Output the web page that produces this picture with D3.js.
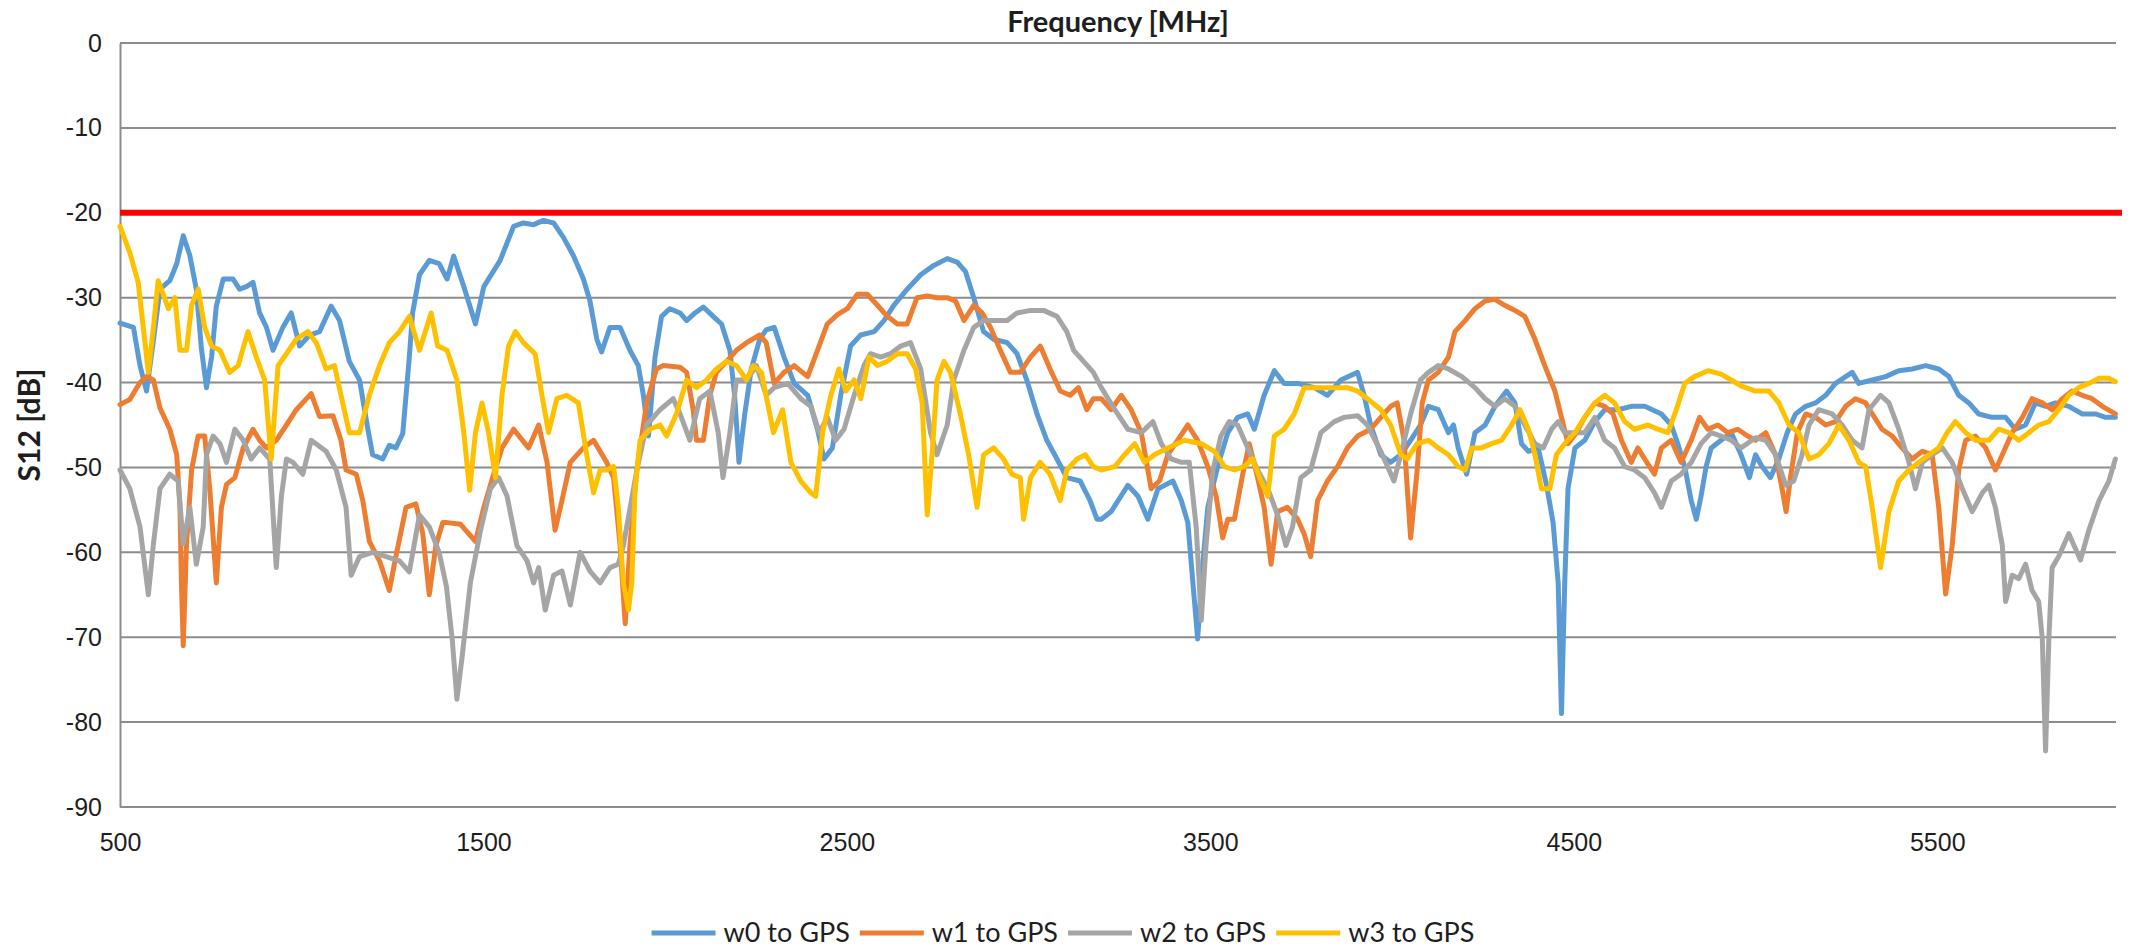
<!DOCTYPE html>
<html>
<head>
<meta charset="utf-8">
<script src="https://cdn.jsdelivr.net/npm/d3@7/dist/d3.min.js"></script>
<style>
  html, body { margin: 0; padding: 0; background: #fff; }
  svg { display: block; font-family: Lato, "Open Sans", sans-serif; }
</style>
</head>
<body>
<svg id="chart" width="2136" height="952"></svg>
<script>
// values (MHz / dB)
const w0Mhz = [500,537,555,573,592,610,637,656,674,692,710,724,738,752,765,784,811,829,848,866,884,903,921,948,971,994,1022,1049,1081,1104,1131,1159,1182,1195,1223,1241,1259,1278,1296,1305,1324,1351,1378,
  1400,1418,1446,1478,1501,1546,1583,1610,1638,1665,1693,1720,1748,1775,1793,1812,1825,1848,1876,1903,1926,1940,1954,1972,1990,2013,2041,2059,2082,2105,2132,2155,2178,2191,2203,2219,2237,2260,2278,
  2300,2327,2355,2392,2419,2437,2460,2483,2510,2538,2575,2602,2629,2666,2703,2739,2776,2803,2826,2849,2876,2904,2941,2968,2995,3023,3050,3078,3105,3142,3169,3188,
  3200,3227,3273,3301,3328,3356,3397,3420,3438,3452,3465,3479,3493,3520,3548,3575,3603,3621,3648,3676,3703,3740,3786,3822,3859,3905,3923,3941,3969,3996,4024,4051,4078,
  4100,4127,4155,4169,4182,4205,4228,4256,4283,4315,4338,4356,4375,4402,4425,4443,4457,4466,4475,4484,4503,4530,4558,4585,4622,4658,4695,4741,4768,4786,4805,4823,4837,4850,4864,4878,4905,4933,4960,4983,
  5000,5018,5041,5064,5087,5110,5138,5165,5193,5220,5248,5266,5284,5321,5358,5394,5431,5468,5504,5532,5559,5587,5614,5651,5688,5715,5743,5770,5798,5825,5862,5899,5935,5963,5990]
const w0Db = [-33,-33.5,-38,-41,-35,-29,-28,-26,-22.7,-25,-29,-36,-40.6,-37,-31,-27.8,-27.8,-29,-28.7,-28.2,-31.8,-33.5,-36.2,-33.5,-31.8,-35.7,-34.4,-34,-31,-32.7,-37.5,-39.7,-45.5,-48.5,-49,-47.4,-47.7,-46,-37,-31.8,-27.3,-25.6,-26,
  -27.8,-25.1,-28.7,-33.1,-28.7,-25.6,-21.6,-21.2,-21.4,-20.9,-21.2,-22.9,-25.1,-27.8,-30.4,-34.9,-36.4,-33.5,-33.5,-36.2,-38,-41.5,-46.3,-37,-32.2,-31.3,-31.8,-32.7,-31.8,-31.1,-32.2,-33.1,-36.2,-41.5,-49.4,-43.7,-38.4,-34.9,-33.8,
  -33.5,-37,-40.1,-41.5,-45.5,-49,-47.7,-41.5,-35.7,-34.4,-34,-32.7,-30.9,-29,-27.3,-26.2,-25.4,-25.8,-26.9,-30,-34,-34.9,-35.3,-36.6,-39.7,-43.7,-46.8,-49,-51.2,-51.6,-53.9,-56.1,
  -56.1,-55.2,-52.1,-53.4,-56.1,-52.5,-51.6,-53.9,-56.5,-63.6,-70.2,-61.4,-54.7,-49.9,-45.9,-44.1,-43.7,-45.5,-41.5,-38.6,-40.1,-40.1,-40.6,-41.5,-39.7,-38.8,-41.5,-45,-48.5,-49.4,-48.5,-46.8,-45,
  -42.8,-43.2,-45.9,-45,-47.7,-50.8,-45.9,-45,-42.8,-41,-42.4,-47.2,-48.1,-47.7,-52.1,-56.5,-63.6,-79,-63.6,-52.5,-47.7,-46.8,-44.6,-43.2,-43.2,-42.8,-42.8,-43.7,-45,-47.2,-49.9,-53.9,-56.1,-53.4,-49.9,-47.7,-46.8,-45.9,-48.5,-51.2,
  -48.5,-49.9,-51.2,-49,-45.9,-43.7,-42.8,-42.4,-41.5,-40.1,-39.3,-38.8,-40.1,-39.7,-39.3,-38.6,-38.4,-38,-38.4,-39.3,-41.5,-42.4,-43.7,-44.1,-44.1,-45.5,-45,-42.4,-42.8,-42.4,-42.8,-43.7,-43.7,-44.1,-44.1]

const w1Mhz = [500,527,555,573,592,610,637,656,665,669,674,683,697,715,733,747,765,779,793,816,839,866,884,903,930,958,985,1026,1049,1086,1108,1122,1150,1168,1186,1214,1241,1259,1287,1314,1333,1351,1369,1388,
  1400,1437,1478,1501,1528,1551,1583,1624,1652,1675,1697,1716,1739,1775,1803,1839,1858,1876,1890,1903,1922,1949,1976,1995,2041,2059,2077,2086,2105,2123,2141,2169,2196,2224,2260,2278,
  2300,2327,2355,2392,2419,2446,2474,2501,2529,2556,2584,2611,2639,2666,2693,2721,2748,2776,2799,2822,2849,2872,2895,2922,2950,2977,3005,3032,3059,3087,3114,3137,3160,3178,
  3200,3227,3255,3282,3310,3337,3360,3383,3410,3438,3465,3493,3516,3534,3548,3566,3589,3607,3630,3648,3667,3685,3712,3740,3758,3776,3795,3822,3850,3877,3905,3941,3969,3996,4014,4033,4051,4069,4083,
  4100,4127,4155,4173,4201,4228,4256,4283,4310,4338,4365,4393,4420,4448,4466,4484,4507,4530,4558,4585,4608,4631,4658,4676,4695,4722,4741,4768,4795,4823,4846,4869,4896,4924,4951,4978,
  5000,5028,5055,5073,5084,5096,5115,5138,5165,5193,5220,5248,5275,5303,5321,5348,5376,5403,5431,5459,5486,5504,5523,5541,5559,5578,5605,5633,5660,5679,5706,5734,5761,5789,5816,5844,5871,5899,5926,5954,5990]
const w1Db = [-42.6,-42,-40,-39.3,-39.7,-43,-45.5,-48.5,-54.7,-63.6,-71,-59,-50.3,-46.3,-46.3,-52.5,-63.6,-54.7,-52,-51.2,-47.7,-45.5,-46.8,-47.7,-46.8,-45,-43.2,-41.3,-44,-43.9,-46.8,-50.3,-50.8,-53.9,-58.7,-61,-64.5,-60.5,-54.7,-54.3,-57.8,-65,-59.2,-56.5,
  -56.5,-56.7,-58.7,-54.7,-50.8,-47.7,-45.5,-47.7,-45,-49.4,-57.4,-53.9,-49.4,-47.7,-46.8,-49.4,-51.2,-59.2,-68.4,-59.2,-50.3,-42.4,-38.4,-38,-38.2,-38.8,-43.2,-46.8,-46.8,-41.5,-38.8,-37.5,-36.2,-35.3,-34.4,-35.3,
  -40.1,-38.8,-38,-39.3,-36.2,-33.1,-32,-31.3,-29.6,-29.6,-30.9,-32.2,-33.1,-33.1,-30,-29.8,-30,-30,-30.4,-32.7,-30.9,-31.8,-33.5,-36.2,-38.8,-38.8,-37,-35.7,-38.4,-41,-41.5,-40.6,-43.2,-41.9,
  -41.9,-43.2,-41.5,-43.2,-45.9,-52.5,-51.6,-48.5,-46.8,-45,-46.8,-49.9,-53.4,-58.3,-56.1,-56.1,-50.8,-47.2,-51.2,-54.7,-61.4,-55.2,-54.7,-56.1,-57.8,-60.5,-53.9,-51.6,-49.9,-47.7,-46.3,-45.5,-44.1,-42.8,-42.4,-46.8,-58.3,-50.3,-42.4,
  -39.7,-38.8,-37,-34,-32.7,-31.3,-30.4,-30.2,-30.9,-31.5,-32.2,-34.9,-38,-41,-44.1,-47.2,-45.9,-44.1,-42.4,-42.8,-43.7,-46.8,-49.4,-47.7,-49,-50.8,-47.7,-46.8,-49.4,-46.8,-44.1,-45.5,-45,-45.9,-45.5,-46.3,
  -46.8,-45.9,-48.5,-52.5,-55.2,-51.2,-45.9,-43.7,-44.1,-45,-44.6,-42.8,-41.9,-42.4,-43.7,-45.5,-46.3,-47.7,-49,-48.1,-48.5,-54.7,-64.9,-59.2,-50.3,-46.8,-46.3,-47.7,-50.3,-48.5,-45.9,-44.1,-41.9,-42.4,-43.2,-41.9,-41,-41.5,-41.9,-42.8,-43.7]

const w2Mhz = [500,527,555,578,592,610,637,660,674,692,710,729,738,756,775,793,816,839,861,884,912,930,944,958,976,1003,1026,1067,1095,1122,1136,1159,1195,1232,1269,1296,1324,1351,1378,
  1398,1414,1427,1441,1464,1492,1519,1542,1565,1592,1620,1638,1652,1670,1693,1716,1739,1766,1793,1821,1848,1871,1885,1922,1949,1986,2022,2041,2068,2095,2123,2146,2159,2178,2196,2224,2251,2278,
  2300,2337,2373,2401,2424,2446,2469,2492,2520,2547,2565,2593,2620,2648,2675,2703,2730,2748,2776,2794,2822,2849,2876,2904,2941,2968,3005,3041,3078,3105,3124,3151,3178,
  3200,3237,3273,3310,3342,3365,3392,3420,3442,3461,3475,3488,3507,3529,3552,3575,3603,3630,3658,3685,3708,3726,3749,3776,3804,3841,3868,3905,3932,3969,4005,4024,4051,4078,
  4100,4127,4155,4192,4228,4256,4283,4310,4338,4365,4393,4416,4439,4457,4475,4503,4530,4558,4585,4612,4640,4667,4695,4722,4741,4768,4795,4823,4850,4878,4905,4933,4960,
  5000,5028,5055,5083,5105,5128,5147,5174,5211,5238,5266,5293,5312,5344,5367,5394,5422,5440,5459,5486,5514,5541,5569,5596,5624,5642,5660,5679,5688,5706,5724,5743,5761,5779,5789,5798,5807,5816,5834,5862,5894,5917,5945,5972,5990]
const w2Db = [-50.3,-52.5,-57,-65,-59,-52.5,-50.8,-51.6,-59,-54.7,-61.4,-57,-48.5,-46.3,-47.2,-49.4,-45.5,-46.8,-49,-47.7,-49,-61.8,-53.4,-49,-49.4,-50.8,-46.8,-48.1,-50.3,-54.7,-62.7,-60.5,-60,-60.5,-61,-62.3,-55.6,-57,-60,
  -64,-70.2,-77.3,-72.4,-63.6,-57.4,-52.5,-51.2,-53.4,-59.2,-61,-63.6,-61.8,-66.8,-62.7,-62.2,-66.2,-60,-62.2,-63.6,-61.8,-61.4,-59.2,-50.3,-45,-43.2,-41.9,-43.7,-46.8,-41.9,-41,-45.9,-51.2,-45.9,-39.7,-39.7,-38,-41.5,
  -40.6,-40.1,-41.9,-42.8,-45.9,-44.1,-46.8,-45.5,-41.5,-38,-36.6,-37,-36.6,-35.7,-35.3,-38.4,-45.9,-48.5,-45,-39.7,-36.2,-33.5,-32.7,-32.7,-32.7,-31.8,-31.5,-31.5,-32.2,-34,-36.2,-37.5,-38.8,
  -40.6,-43.2,-45.5,-45.9,-44.6,-47.2,-49,-49.4,-49.4,-57,-68,-59.2,-50.3,-46.3,-44.6,-45,-47.7,-50.3,-52.5,-55.6,-59.2,-57,-51.2,-50.3,-45.9,-44.6,-44.1,-43.9,-45,-48.1,-51.6,-48.5,-43.7,-39.7,
  -38.8,-38,-38.4,-39.3,-40.6,-41.9,-42.8,-41.9,-42.8,-45,-47.2,-47.7,-45.5,-44.6,-45.9,-45.9,-45.9,-44.1,-46.8,-47.7,-49.9,-50.3,-51.2,-53,-54.7,-51.6,-50.8,-49.4,-47.2,-45.9,-46.3,-46.8,-47.7,
  -46.5,-46.8,-48.5,-52.1,-51.6,-48.5,-45,-43.2,-43.7,-45,-46.8,-47.7,-43.2,-41.5,-42.4,-45.5,-49.4,-52.5,-49.4,-48.5,-47.7,-49.4,-52.5,-55.2,-53,-52.1,-54.7,-59.2,-65.8,-62.7,-63.1,-61.4,-64.5,-65.8,-70.2,-83.4,-70.2,-61.8,-60.5,-57.8,-60.9,-57.4,-53.9,-51.6,-49]

const w3Mhz = [500,527,550,564,578,592,605,619,633,651,665,683,697,715,733,752,775,802,825,852,875,898,916,935,958,985,1017,1040,1067,1090,1108,1131,1159,1186,1214,1241,1269,1296,1324,1356,1374,1400,
  1427,1446,1462,1478,1496,1514,1533,1551,1569,1588,1610,1642,1661,1679,1702,1729,1761,1784,1803,1821,1839,1858,1871,1885,1899,1908,1917,1931,1958,1986,2004,2031,2059,2086,2114,2141,2169,2196,2224,2242,2265,2298,
  2323,2346,2373,2401,2414,2433,2456,2478,2497,2520,2538,2561,2584,2611,2639,2666,2689,2707,2721,2735,2748,2767,2785,2812,2835,2858,2876,2904,2931,2954,2977,2986,3005,3032,3059,3087,3105,3133,3156,3178,
  3200,3237,3264,3292,3319,3346,3383,3429,3475,3511,3539,3566,3593,3616,3639,3658,3676,3703,3731,3758,3795,3841,3877,3905,3932,3969,3996,4024,4042,4069,
  4100,4127,4155,4182,4201,4219,4246,4274,4301,4329,4352,4375,4393,4411,4434,4452,4475,4503,4530,4558,4585,4612,4640,4667,4704,4731,4759,4782,4805,4832,4869,4905,4933,4960,
  5000,5037,5064,5092,5119,5147,5174,5202,5229,5257,5284,5303,5321,5344,5367,5394,5422,5449,5477,5504,5527,5550,5578,5605,5642,5669,5697,5724,5752,5779,5807,5834,5862,5889,5917,5945,5972,5990]
const w3Db = [-21.6,-24.7,-28.2,-33.5,-38.8,-33.5,-28,-29.6,-31.3,-30,-36.2,-36.2,-30.9,-29,-33.5,-35.7,-36.2,-38.8,-38,-34,-37,-39.7,-49,-38,-36.6,-34.9,-34,-35.3,-38.4,-38,-41.5,-45.9,-45.9,-41.5,-38,-35.3,-34,-32.2,-36.2,-31.8,-35.7,-36.2,
  -39.7,-45.9,-52.7,-45.9,-42.4,-45.9,-51.2,-41.5,-35.7,-34,-35.3,-36.6,-41.5,-45.9,-41.9,-41.5,-42.4,-48.5,-53,-50.3,-50.3,-49.9,-54.7,-63.6,-66.8,-63.6,-52.5,-46.8,-45.5,-45,-46.3,-43.7,-39.7,-40.6,-39.7,-38.4,-37.5,-38,-39.7,-38,-38.8,-45.9,
  -43.2,-49.4,-51.6,-53,-53.4,-45.9,-41.5,-38.4,-41,-39.7,-41.9,-37,-38,-37.5,-36.6,-36.6,-38.4,-42.4,-55.6,-48.1,-39.7,-37.5,-38.8,-43.7,-48.5,-54.7,-48.5,-47.7,-49,-50.8,-51.2,-56.1,-51.2,-49.4,-50.8,-53.9,-50.3,-49,-48.5,-49.9,
  -50.3,-49.9,-48.5,-47.2,-49.4,-48.5,-47.7,-46.8,-47.2,-48.1,-49.9,-50.3,-49.9,-49,-51.6,-53.4,-46.3,-45.5,-43.7,-40.6,-40.6,-40.6,-40.6,-41,-41.9,-43.2,-45,-48.5,-49,-47.2,
  -46.8,-47.7,-48.5,-49.9,-50.3,-47.7,-47.7,-47.2,-46.8,-45,-43.2,-45.5,-48.5,-52.5,-52.5,-48.5,-47.2,-45.9,-44.1,-42.4,-41.5,-42.4,-44.6,-45.5,-45,-45.5,-45.9,-43.2,-40.1,-39.3,-38.6,-39,-39.7,-40.4,
  -41,-41,-42.4,-45,-45.9,-49,-48.5,-47.2,-45,-46.8,-49.4,-49.9,-54.7,-61.8,-55.2,-51.6,-50.3,-49.4,-48.5,-47.7,-45.9,-44.6,-45.9,-46.8,-46.8,-45.5,-45.9,-46.8,-45.9,-45,-44.6,-43.2,-41.5,-40.6,-40.1,-39.5,-39.5,-39.9]

const seriesNames = ["w0 to GPS", "w1 to GPS", "w2 to GPS", "w3 to GPS"]
const seriesColors = ["#5b9bd5", "#ed7d31", "#a5a5a5", "#ffc000"]
const limitDb = -20
const xTicks = [500, 1500, 2500, 3500, 4500, 5500]
const yTicks = [0, -10, -20, -30, -40, -50, -60, -70, -80, -90]

const series = [
  { name: seriesNames[0], mhz: w0Mhz, db: w0Db },
  { name: seriesNames[1], mhz: w1Mhz, db: w1Db },
  { name: seriesNames[2], mhz: w2Mhz, db: w2Db },
  { name: seriesNames[3], mhz: w3Mhz, db: w3Db },
].map((s, i) => ({ ...s, color: seriesColors[i], points: s.mhz.map((m, j) => [m, s.db[j]]) }))

const plotLeft = 120, plotRight = 2116, plotTop = 43, plotBottom = 807
const gridColor = "#8c8c8c"
const textColor = "#1e1e1e"

const svg = d3.select("#chart")

const x = d3.scaleLinear().domain([500, 6000]).range([plotLeft, 2119])
const y = d3.scaleLinear().domain([-90, 0]).range([plotBottom, plotTop])

// horizontal gridlines
svg.append("g")
  .attr("class", "grid")
  .selectAll("line")
  .data(yTicks)
  .join("line")
  .attr("x1", plotLeft)
  .attr("x2", plotRight)
  .attr("y1", (d) => y(d))
  .attr("y2", (d) => y(d))
  .attr("stroke", gridColor)
  .attr("stroke-width", 2)

// left axis line + labels (plain hyphen like the original, not d3's minus sign)
const yAxis = svg.append("g")
  .attr("transform", `translate(${plotLeft},0)`)
  .call(d3.axisLeft(y).tickValues(yTicks).tickFormat((d) => `${d}`).tickSize(0).tickPadding(18).tickSizeOuter(0))
yAxis.select(".domain").attr("stroke", gridColor).attr("stroke-width", 2)
yAxis.selectAll("text")
  .style("font-size", "25px")
  .attr("fill", textColor)

// bottom labels (the -90 gridline acts as the axis line)
const xAxis = svg.append("g")
  .attr("transform", `translate(0,${plotBottom})`)
  .call(d3.axisBottom(x).tickValues(xTicks).tickFormat((d) => `${d}`).tickSize(0).tickPadding(26))
xAxis.select(".domain").remove()
xAxis.selectAll("text")
  .style("font-size", "25px")
  .attr("fill", textColor)

// series
const line = d3.line()
  .x((d) => x(d[0]))
  .y((d) => y(d[1]))

svg.append("g")
  .attr("class", "series")
  .selectAll("path")
  .data(series)
  .join("path")
  .attr("d", (d) => line(d.points))
  .attr("fill", "none")
  .attr("stroke", (d) => d.color)
  .attr("stroke-width", 5)
  .attr("stroke-linejoin", "round")
  .attr("stroke-linecap", "round")

// -20 dB limit
svg.append("line")
  .attr("x1", x(500))
  .attr("x2", x(6000) + 3)
  .attr("y1", y(limitDb))
  .attr("y2", y(limitDb))
  .attr("stroke", "#ff0000")
  .attr("stroke-width", 6)

// titles
svg.append("text")
  .attr("x", (plotLeft + plotRight) / 2)
  .attr("y", 32)
  .attr("text-anchor", "middle")
  .style("font-size", "29px")
  .style("font-weight", "bold")
  .attr("fill", textColor)
  .text("Frequency [MHz]")

svg.append("text")
  .attr("transform", `translate(40,${(plotTop + plotBottom) / 2}) rotate(-90)`)
  .attr("text-anchor", "middle")
  .style("font-size", "30px")
  .style("font-weight", "bold")
  .attr("fill", textColor)
  .text("S12 [dB]")

// legend
const legend = svg.append("g").attr("class", "legend")
const items = legend.selectAll("g")
  .data(series)
  .join("g")
items.append("line")
  .attr("x1", 0)
  .attr("x2", 64)
  .attr("y1", 0)
  .attr("y2", 0)
  .attr("stroke", (d) => d.color)
  .attr("stroke-width", 5)
items.append("text")
  .attr("x", 72)
  .attr("dy", "0.35em")
  .style("font-size", "27px")
  .attr("fill", textColor)
  .text((d) => d.name)

let offset = 0
items.each(function () {
  const w = d3.select(this).select("text").node().getComputedTextLength()
  d3.select(this).attr("data-off", offset)
  offset += 72 + w + 10
})
const legendWidth = offset - 10
const legendLeft = 1063 - legendWidth / 2
items.attr("transform", function () {
  return `translate(${legendLeft + +this.getAttribute("data-off")},933)`
})
</script>
</body>
</html>
